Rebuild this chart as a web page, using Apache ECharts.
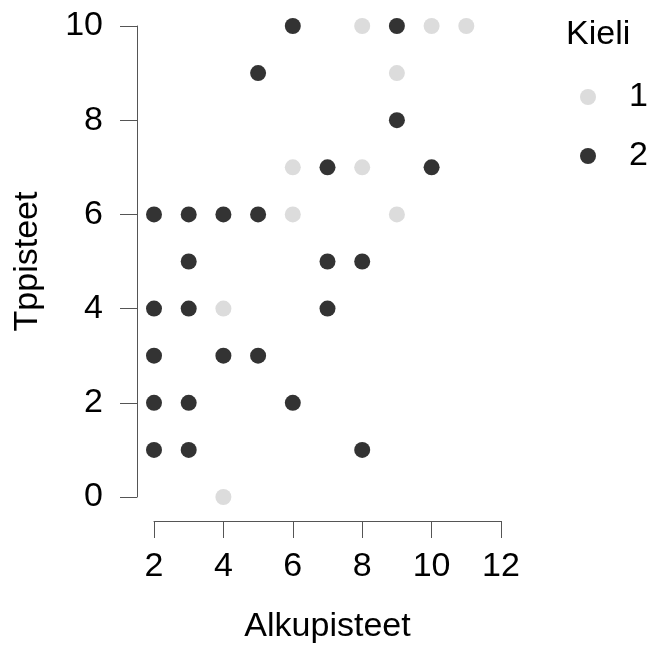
<!DOCTYPE html>
<html>
<head>
<meta charset="utf-8">
<script src="https://cdn.jsdelivr.net/npm/echarts@6/dist/echarts.min.js"></script>
<style>
  html, body { margin: 0; padding: 0; background: #fff; }
  #chart { width: 648px; height: 645px; }
</style>
</head>
<body>
<div id="chart"></div>
<script>
// Kieli = 1
const kieli1X = [8, 10, 11, 9, 6, 8, 6, 9, 4, 4];
const kieli1Y = [10, 10, 10, 9, 7, 7, 6, 6, 4, 0];
// Kieli = 2
const kieli2X = [6, 9, 5, 9, 7, 10, 2, 3, 4, 5, 3, 7, 8, 2, 3, 7, 2, 4, 5, 2, 3, 6, 2, 3, 8];
const kieli2Y = [10, 10, 9, 8, 7, 7, 6, 6, 6, 6, 5, 5, 5, 4, 4, 4, 3, 3, 3, 2, 2, 2, 1, 1, 1];

const groupNames = ['1', '2'];
const groupColors = ['#dcdcdc', '#333333'];

const font = "'Liberation Sans', Arial, sans-serif";
const fs = 34;

const chart = echarts.init(document.getElementById('chart'));

const toPairs = (xs, ys) => xs.map((x, i) => [x, ys[i]]);

const option = {
  animation: false,
  textStyle: { fontFamily: font },
  title: {
    text: 'Kieli',
    left: 561,
    top: 13,
    textStyle: { fontFamily: font, fontSize: fs, fontWeight: 'normal', color: '#000' }
  },
  legend: {
    orient: 'vertical',
    left: 575,
    top: 75,
    itemWidth: 16,
    itemHeight: 16,
    itemGap: 25,
    icon: 'circle',
    data: groupNames,
    textStyle: { fontFamily: font, fontSize: fs, color: '#000', padding: [0, 0, 0, 28] }
  },
  grid: { left: 154, right: 147, top: 26, bottom: 148, outerBoundsMode: 'none', containLabel: false },
  xAxis: {
    type: 'value',
    min: 2,
    max: 12,
    interval: 2,
    offset: 24,
    name: 'Alkupisteet',
    nameLocation: 'middle',
    nameGap: 89,
    nameTextStyle: { fontFamily: font, fontSize: fs, color: '#000' },
    splitLine: { show: false },
    axisLine: { onZero: false, lineStyle: { color: '#555', width: 1 } },
    axisTick: { length: 17, lineStyle: { color: '#555' } },
    axisLabel: { fontFamily: font, fontSize: fs, color: '#000', margin: 29 }
  },
  yAxis: {
    type: 'value',
    min: 0,
    max: 10,
    interval: 2,
    offset: 17,
    name: 'Tppisteet',
    nameLocation: 'middle',
    nameGap: 92,
    nameTextStyle: { fontFamily: font, fontSize: fs, color: '#000' },
    splitLine: { show: false },
    axisLine: { show: true, onZero: false, lineStyle: { color: '#555', width: 1 } },
    axisTick: { show: true, length: 17, lineStyle: { color: '#555' } },
    axisLabel: { fontFamily: font, fontSize: fs, color: '#000', margin: 34 }
  },
  series: [
    {
      name: groupNames[0],
      type: 'scatter',
      symbolSize: 16,
      clip: false,
      itemStyle: { color: groupColors[0], opacity: 1 },
      data: toPairs(kieli1X, kieli1Y)
    },
    {
      name: groupNames[1],
      type: 'scatter',
      symbolSize: 16,
      clip: false,
      itemStyle: { color: groupColors[1], opacity: 1 },
      data: toPairs(kieli2X, kieli2Y)
    }
  ]
};

chart.setOption(option);
</script>
</body>
</html>
